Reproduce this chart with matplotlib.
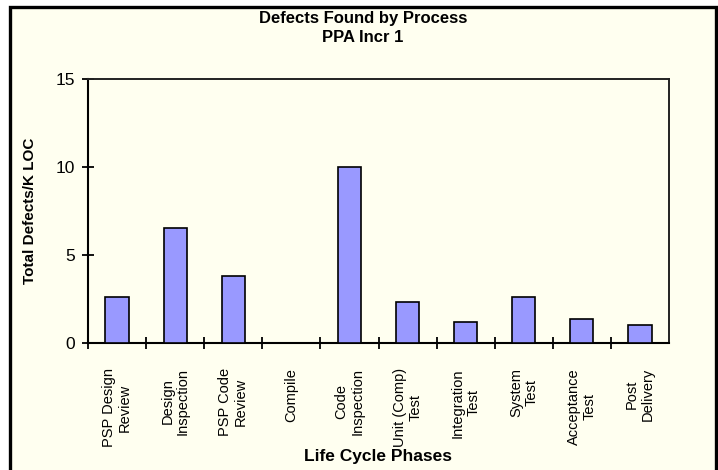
import matplotlib
matplotlib.use('Agg')
import matplotlib.pyplot as plt
from matplotlib.patches import Rectangle

# chart data
phases = ['PSP Design\nReview', 'Design\nInspection', 'PSP Code\nReview', 'Compile',
          'Code\nInspection', 'Unit (Comp)\nTest', 'Integration\nTest', 'System\nTest',
          'Acceptance\nTest', 'Post\nDelivery']
defects_per_kloc = [2.63, 6.53, 3.8, 0.0, 10.0, 2.35, 1.18, 2.63, 1.35, 1.0]
y_ticks = [0, 5, 10, 15]

BG = '#FFFFF0'
BAR = '#9999FF'
plt.rcParams['font.family'] = ['Liberation Sans', 'DejaVu Sans']

fig = plt.figure(figsize=(7.18, 4.70), dpi=100)
fig.patch.set_facecolor('white')

# outer chart frame (Excel style), drawn under the axes
frame = Rectangle((10 / 718, -0.02), 706 / 718, 1 - 7 / 470 + 0.02,
                  transform=fig.transFigure, facecolor=BG, edgecolor='black',
                  linewidth=2.4, zorder=-1)
fig.patches.append(frame)

ax = fig.add_axes([88 / 718, 1 - 343 / 470, 581 / 718, 264 / 470])
ax.set_facecolor(BG)
ax.set_zorder(1)

x = list(range(len(phases)))
ax.bar(x, defects_per_kloc, width=0.4, color=BAR, edgecolor='black', linewidth=1.2, zorder=3)

ax.set_xlim(-0.5, len(phases) - 0.5)
ax.set_ylim(0, 15)
ax.set_yticks(y_ticks)
ax.set_yticklabels([str(t) for t in y_ticks], fontsize=12.5)
ax.tick_params(axis='y', direction='inout', length=9, width=1.3, pad=5)

# category labels at centres, tick marks at the boundaries
ax.set_xticks(x)
ax.set_xticklabels(phases, rotation=90, fontsize=10.5, ha='center', va='top',
                   multialignment='center', linespacing=1.15)
ax.tick_params(axis='x', which='major', length=0, pad=18)
ax.set_xticks([i + 0.5 for i in x[:-1]] + [-0.5], minor=True)
ax.tick_params(axis='x', which='minor', direction='inout', length=9, width=1.3)

for side in ['left', 'bottom']:
    ax.spines[side].set_linewidth(1.5)
for side in ['top', 'right']:
    ax.spines[side].set_linewidth(1.4)
    ax.spines[side].set_color('#222222')

ax.set_ylabel('Total Defects/K LOC', fontsize=11, fontweight='bold')
ax.yaxis.set_label_coords(-0.088, 0.5)
ax.set_xlabel('Life Cycle Phases', fontsize=12.5, fontweight='bold')
ax.xaxis.set_label_coords(0.5, -0.43)
ax.xaxis.label.set_verticalalignment('center')

fig.text(363 / 718, 1 - 19 / 470, 'Defects Found by Process', ha='center', va='center',
         fontsize=12, fontweight='bold')
fig.text(363 / 718, 1 - 37 / 470, 'PPA Incr 1', ha='center', va='center',
         fontsize=12, fontweight='bold')

fig.savefig('out.png', dpi=100, facecolor=fig.get_facecolor())
